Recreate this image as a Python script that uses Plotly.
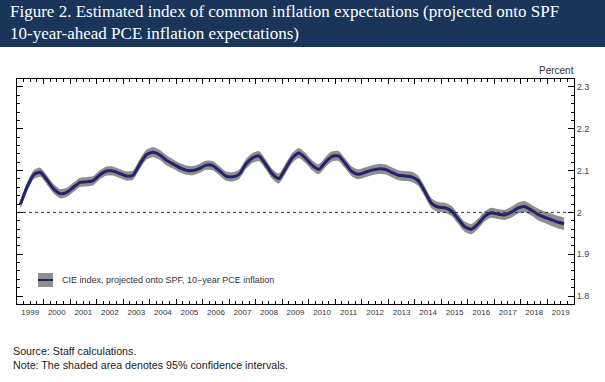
import plotly.graph_objects as go

# ---------------- data ----------------
start_year = 1999
cie_index = [
    2.019, 2.060, 2.090, 2.096, 2.078, 2.057, 2.045, 2.048, 2.060, 2.072,
    2.073, 2.076, 2.090, 2.099, 2.099, 2.093, 2.087, 2.089, 2.115, 2.138,
    2.144, 2.138, 2.125, 2.116, 2.107, 2.101, 2.100, 2.105, 2.113, 2.112,
    2.100, 2.087, 2.085, 2.091, 2.115, 2.130, 2.135, 2.115, 2.092, 2.081,
    2.105, 2.130, 2.142, 2.130, 2.113, 2.103, 2.120, 2.134, 2.135, 2.117,
    2.098, 2.091, 2.096, 2.101, 2.104, 2.103, 2.096, 2.089, 2.087, 2.085,
    2.076, 2.050, 2.022, 2.013, 2.011, 2.004, 1.985, 1.966, 1.960, 1.972,
    1.990, 1.999, 1.996, 1.994, 2.000, 2.010, 2.014, 2.006, 1.996, 1.989,
    1.983, 1.977, 1.973,
]
ci_half = [
    0.010, 0.011, 0.011, 0.011, 0.011, 0.011, 0.011, 0.011, 0.011, 0.011,
    0.011, 0.011, 0.011, 0.011, 0.011, 0.011, 0.011, 0.011, 0.012, 0.012,
    0.012, 0.012, 0.012, 0.011, 0.011, 0.011, 0.011, 0.011, 0.011, 0.011,
    0.011, 0.011, 0.011, 0.011, 0.012, 0.012, 0.012, 0.012, 0.012, 0.012,
    0.012, 0.012, 0.012, 0.012, 0.012, 0.012, 0.012, 0.012, 0.012, 0.012,
    0.012, 0.012, 0.012, 0.012, 0.012, 0.012, 0.012, 0.012, 0.012, 0.012,
    0.012, 0.012, 0.012, 0.012, 0.012, 0.012, 0.012, 0.012, 0.012, 0.012,
    0.012, 0.012, 0.012, 0.012, 0.013, 0.013, 0.013, 0.013, 0.014, 0.014,
    0.015, 0.015, 0.015,
]
year_labels = [str(y) for y in range(1999, 2020)]
y_ticks = [1.8, 1.9, 2.0, 2.1, 2.2, 2.3]
y_tick_text = ["1.8", "1.9", "2", "2.1", "2.2", "2.3"]
reference_level = 2.0

title_text = ("Figure 2. Estimated index of common inflation expectations (projected onto SPF"
              "<br>10-year-ahead PCE inflation expectations)")
legend_text = "CIE index, projected onto SPF, 10\u2212year PCE inflation"
source_text = "Source: Staff calculations."
note_text = "Note: The shaded area denotes 95% confidence intervals."

# quarter mid-points on a continuous year axis
x_q = [start_year + 0.125 + 0.25 * i for i in range(len(cie_index))]
upper = [v + h for v, h in zip(cie_index, ci_half)]
lower = [v - h for v, h in zip(cie_index, ci_half)]

NAVY = "#22226e"
BAND = "#8f8f8f"

fig = go.Figure()
fig.add_trace(go.Scatter(x=x_q, y=upper, mode="lines",
                         line=dict(width=0, color=BAND, shape="spline", smoothing=0.6),
                         hoverinfo="skip", showlegend=False))
fig.add_trace(go.Scatter(x=x_q, y=lower, mode="lines",
                         line=dict(width=0, color=BAND, shape="spline", smoothing=0.6),
                         fill="tonexty", fillcolor=BAND, hoverinfo="skip", showlegend=False))
fig.add_trace(go.Scatter(x=[1999, 2020], y=[reference_level, reference_level], mode="lines",
                         line=dict(color="#333333", width=1, dash="dot"),
                         xaxis="x2", showlegend=False, hoverinfo="skip"))
fig.add_trace(go.Scatter(x=x_q, y=cie_index, mode="lines",
                         line=dict(color=NAVY, width=3, shape="spline", smoothing=0.6),
                         showlegend=False))

# pixel helpers for paper coordinates
L, R, T, B = 17, 574, 79, 304
W, H = 605, 382
pw, ph = R - L, B - T


def px(x):
    return (x - L) / pw


def py(y):
    return (B - y) / ph


shapes = [
    # title banner
    dict(type="rect", xref="paper", yref="paper", x0=px(0), x1=px(W), y0=py(47), y1=py(0),
         fillcolor="#19365a", line=dict(width=0), layer="below"),
    # legend swatch
    dict(type="rect", xref="paper", yref="paper", x0=px(38), x1=px(53), y0=py(287), y1=py(273),
         fillcolor=BAND, line=dict(width=0)),
    dict(type="line", xref="paper", yref="paper", x0=px(38), x1=px(53), y0=py(280), y1=py(280),
         line=dict(color=NAVY, width=2)),
]

annotations = [
    dict(text=title_text, xref="paper", yref="paper", x=px(8), y=py(23), xanchor="left",
         yanchor="middle", showarrow=False, align="left",
         font=dict(family="Liberation Serif", size=17, color="white")),
    dict(text="Percent", xref="paper", yref="paper", x=px(576), y=py(70), xanchor="right",
         yanchor="middle", showarrow=False,
         font=dict(family="Liberation Sans", size=10, color="#333333")),
    dict(text=legend_text, xref="paper", yref="paper", x=px(60), y=py(280), xanchor="left",
         yanchor="middle", showarrow=False,
         font=dict(family="Liberation Sans", size=9, color="#333333")),
    dict(text=source_text, xref="paper", yref="paper", x=px(11), y=py(351), xanchor="left",
         yanchor="middle", showarrow=False,
         font=dict(family="Liberation Sans", size=10.7, color="#222222")),
    dict(text=note_text, xref="paper", yref="paper", x=px(11), y=py(365), xanchor="left",
         yanchor="middle", showarrow=False,
         font=dict(family="Liberation Sans", size=10.7, color="#222222")),
]

fig.update_layout(
    width=W, height=H,
    margin=dict(l=L, r=W - R, t=T, b=H - B, pad=0),
    paper_bgcolor="white", plot_bgcolor="white",
    showlegend=False,
    shapes=shapes, annotations=annotations,
    xaxis=dict(range=[1999, 2020], tickmode="array",
               tickvals=[int(y) + 0.5 for y in year_labels], ticktext=year_labels,
               ticks="", showline=True, linecolor="black", linewidth=1, mirror=True,
               showgrid=False, zeroline=False,
               tickfont=dict(family="Liberation Sans", size=8, color="#333333")),
    xaxis2=dict(overlaying="x", matches="x", range=[1999, 2020], anchor="y",
                tickmode="array", tickvals=list(range(1999, 2021)),
                ticks="inside", ticklen=5, tickcolor="black", tickwidth=1,
                minor=dict(dtick=0.25, tick0=1999, ticks="inside", ticklen=3,
                           tickcolor="black", tickwidth=1, showgrid=False),
                mirror="ticks", showline=False, showticklabels=False,
                showgrid=False, zeroline=False, side="bottom"),
    yaxis=dict(range=[1.781, 2.319], side="right", tickmode="array",
               tickvals=y_ticks, ticktext=y_tick_text,
               ticks="inside", ticklen=6, tickcolor="black", tickwidth=1,
               minor=dict(dtick=0.02, tick0=1.8, ticks="inside", ticklen=3,
                          tickcolor="black", tickwidth=1, showgrid=False),
               showline=True, linecolor="black", linewidth=1, mirror="ticks",
               showgrid=False, zeroline=False,
               tickfont=dict(family="Liberation Sans", size=9, color="#444444")),
)

fig.write_html("out.html",
               config={"displayModeBar": False, "staticPlot": True},
               post_script="document.body.style.margin='0';document.body.style.padding='0';")
